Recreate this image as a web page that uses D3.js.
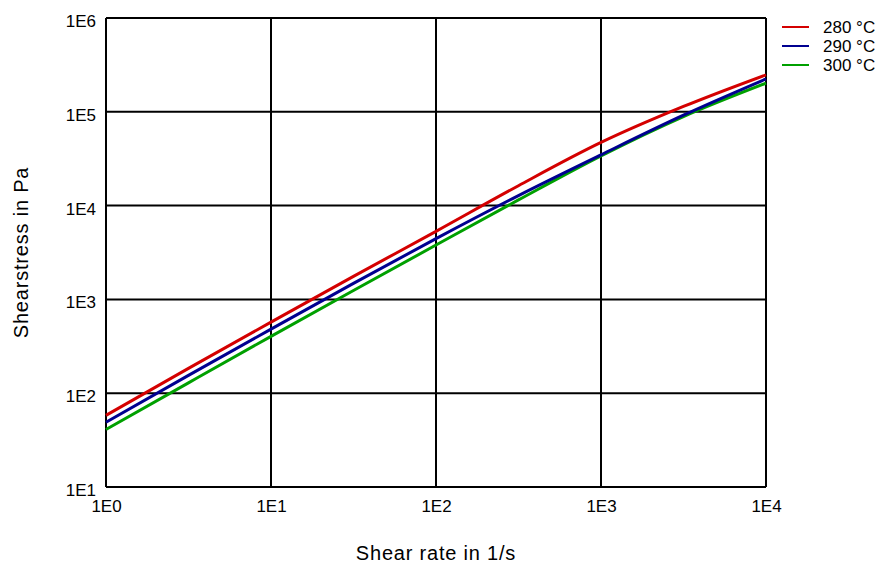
<!DOCTYPE html>
<html>
<head>
<meta charset="utf-8">
<script src="https://cdn.jsdelivr.net/npm/d3@7"></script>
<style>
    body { margin: 0; background: #fff; }
    text { font-family: "Liberation Sans", Arial, sans-serif; fill: #000; }
</style>
</head>
<body>
<script>
//shear rates read at half decades
var shearRates = [1, 3.16, 10, 31.6, 100, 316, 1000, 3160, 10000];

//shear stress per temperature
var stress280 = [58, 184, 573, 1760, 5320, 16300, 47100, 114000, 248000];
var stress290 = [49, 155, 482, 1480, 4450, 12800, 34800, 92000, 224000];
var stress300 = [41, 129, 404, 1245, 3800, 11500, 33900, 89000, 202000];

var seriesNames = ["280 °C", "290 °C", "300 °C"];
var seriesColors = ["#d40000", "#000090", "#00a000"];

var xTicks = [1, 10, 100, 1000, 10000];
var xTickLabels = ["1E0", "1E1", "1E2", "1E3", "1E4"];
var yTicks = [10, 100, 1000, 10000, 100000, 1000000];
var yTickLabels = ["1E1", "1E2", "1E3", "1E4", "1E5", "1E6"];

var width = 882,
    height = 566;

var margin = {left: 106, top: 18, right: 116, bottom: 79};

var svg = d3.select("body")
    .append("svg")
    .attr("width", width)
    .attr("height", height);

var x = d3.scaleLog()
    .domain([1, 10000])
    .range([margin.left, width - margin.right]);

var y = d3.scaleLog()
    .domain([10, 1000000])
    .range([height - margin.bottom, margin.top]);

//grid lines
svg.selectAll(".vgrid")
    .data(xTicks)
    .enter()
    .append("line")
    .attr("x1", function(d){ return x(d); })
    .attr("x2", function(d){ return x(d); })
    .attr("y1", y(10))
    .attr("y2", y(1000000))
    .attr("stroke", "#000")
    .attr("stroke-width", 2);

svg.selectAll(".hgrid")
    .data(yTicks)
    .enter()
    .append("line")
    .attr("x1", x(1))
    .attr("x2", x(10000))
    .attr("y1", function(d){ return y(d); })
    .attr("y2", function(d){ return y(d); })
    .attr("stroke", "#000")
    .attr("stroke-width", 2);

//axes, labels only
var xAxis = svg.append("g")
    .attr("transform", "translate(0," + y(10) + ")")
    .call(d3.axisBottom(x).tickValues(xTicks)
        .tickFormat(function(d, i){ return xTickLabels[i]; })
        .tickSize(0).tickPadding(13));

var yAxis = svg.append("g")
    .attr("transform", "translate(" + x(1) + ",0)")
    .call(d3.axisLeft(y).tickValues(yTicks)
        .tickFormat(function(d, i){ return yTickLabels[i]; })
        .tickSize(0).tickPadding(10));

[xAxis, yAxis].forEach(function(a){
    a.select(".domain").remove();
    a.selectAll("text")
        .style("font-family", "Liberation Sans, Arial, sans-serif")
        .style("font-size", "17px")
        .attr("fill", "#000");
});
yAxis.selectAll("text").attr("dy", "0.5em");

//curves
var line = d3.line()
    .x(function(d){ return x(d[0]); })
    .y(function(d){ return y(d[1]); })
    .curve(d3.curveMonotoneX);

var allStress = [stress280, stress290, stress300];

//draw green first so that blue and red sit on top
[2, 1, 0].forEach(function(i){
    svg.append("path")
        .datum(d3.zip(shearRates, allStress[i]))
        .attr("fill", "none")
        .attr("stroke", seriesColors[i])
        .attr("stroke-width", 3)
        .attr("d", line);
});

//axis titles
svg.append("text")
    .attr("x", (x(1) + x(10000)) / 2)
    .attr("y", 560)
    .attr("text-anchor", "middle")
    .style("font-size", "20px")
    .style("letter-spacing", "0.8px")
    .text("Shear rate in 1/s");

svg.append("text")
    .attr("transform", "translate(28," + (y(10) + y(1000000)) / 2 + ") rotate(-90)")
    .attr("text-anchor", "middle")
    .style("font-size", "20px")
    .style("letter-spacing", "0.8px")
    .text("Shearstress in Pa");

//legend
var legend = svg.selectAll(".legend")
    .data(seriesNames)
    .enter()
    .append("g")
    .attr("transform", function(d, i){ return "translate(782," + (27 + i * 19) + ")"; });

legend.append("line")
    .attr("x1", 0)
    .attr("x2", 27)
    .attr("stroke", function(d, i){ return seriesColors[i]; })
    .attr("stroke-width", 2);

legend.append("text")
    .attr("x", 41)
    .attr("dy", "0.35em")
    .style("font-size", "17px")
    .text(function(d){ return d; });
</script>
</body>
</html>
